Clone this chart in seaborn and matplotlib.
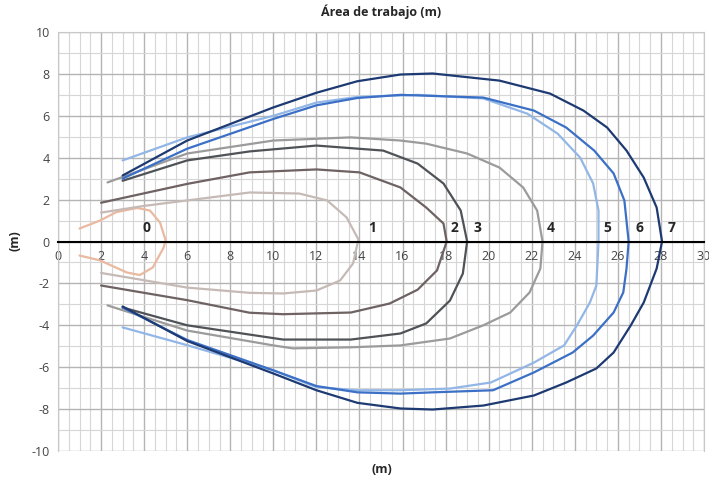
import numpy as np
import pandas as pd
import seaborn as sns
import matplotlib.pyplot as plt
from matplotlib.ticker import MultipleLocator

# Curves of the working area (path: upper half left->right, then lower half right->left)
c0_x = [1.0, 1.95, 2.7, 3.67, 4.27, 4.74, 5.0, 4.9, 4.4, 3.8, 3.2, 1.95, 1.0]
c0_y = [0.62, 1.0, 1.4, 1.6, 1.48, 0.9, 0.05, -0.3, -1.24, -1.6, -1.48, -0.9, -0.67]

c1_x = [2.0, 4.0, 6.0, 8.9, 11.2, 12.5, 13.4, 13.95, 13.7, 13.1, 12.0, 10.45, 8.9, 6.0, 4.0, 2.0]
c1_y = [1.38, 1.7, 1.96, 2.34, 2.29, 1.96, 1.15, 0.1, -1.05, -1.86, -2.34, -2.48, -2.45, -2.2, -1.85, -1.5]

c2_x = [2.0, 6.0, 8.9, 12.0, 14.0, 15.9, 17.1, 17.9, 18.05, 17.6, 16.7, 15.4, 13.6, 10.45, 8.9, 6.0, 2.0]
c2_y = [1.85, 2.75, 3.3, 3.44, 3.3, 2.58, 1.62, 0.86, 0.0, -1.38, -2.3, -2.96, -3.39, -3.47, -3.4, -2.8, -2.1]

c3_x = [3.0, 6.0, 8.9, 12.0, 15.1, 16.7, 17.9, 18.7, 19.0, 18.8, 18.2, 17.1, 15.9, 13.6, 10.45, 6.0, 3.0]
c3_y = [2.9, 3.87, 4.3, 4.58, 4.34, 3.72, 2.77, 1.48, 0.0, -1.53, -2.82, -3.91, -4.39, -4.68, -4.68, -4.0, -3.15]

c4_x = [2.3, 6.0, 10.0, 13.6, 15.9, 17.1, 19.0, 20.5, 21.6, 22.25, 22.5, 22.4, 21.9, 21.0, 19.75, 18.2, 15.9, 13.6, 10.9, 10.0, 6.0, 2.3]
c4_y = [2.82, 4.2, 4.82, 4.97, 4.82, 4.67, 4.2, 3.53, 2.58, 1.48, 0.0, -1.29, -2.43, -3.39, -4.0, -4.63, -4.96, -5.05, -5.1, -4.96, -4.25, -3.05]

c5_x = [3.0, 6.0, 10.0, 12.0, 13.9, 16.7, 19.75, 21.8, 23.2, 24.25, 24.85, 25.1, 25.1, 25.0, 24.7, 24.1, 23.5, 22.1, 20.1,
        18.2, 15.9, 13.9, 12.0, 10.0, 6.0, 3.0]
c5_y = [3.87, 4.97, 6.0, 6.63, 6.9, 7.0, 6.83, 6.1, 5.15, 4.0, 2.77, 1.48, 0.0, -2.1, -2.91, -4.0, -4.96, -5.78, -6.73,
        -7.02, -7.1, -7.1, -6.95, -6.15, -4.95, -4.1]

c6_x = [3.0, 6.0, 10.0, 12.0, 13.9, 15.9, 19.75, 22.1, 23.6, 24.9, 25.8, 26.3, 26.5, 26.4, 26.25, 25.8, 24.85, 23.9, 22.1,
        20.2, 17.4, 15.9, 13.9, 12.0, 10.0, 6.0, 3.0]
c6_y = [3.0, 4.43, 5.85, 6.5, 6.85, 7.0, 6.87, 6.25, 5.44, 4.34, 3.25, 1.96, 0.0, -1.29, -2.43, -3.39, -4.49, -5.3, -6.25,
        -7.1, -7.2, -7.26, -7.2, -6.9, -6.15, -4.7, -3.15]

c7_x = [3.0, 6.0, 10.0, 12.0, 13.9, 15.9, 17.4, 20.5, 22.85, 24.4, 25.5, 26.4, 27.2, 27.8, 28.05, 27.8, 27.2, 26.6, 25.8,
        25.0, 23.6, 22.1, 19.75, 17.4, 15.9, 13.9, 12.0, 10.0, 6.0, 3.0]
c7_y = [3.15, 4.82, 6.4, 7.1, 7.65, 7.97, 8.02, 7.68, 7.06, 6.25, 5.44, 4.34, 3.05, 1.62, 0.0, -1.29, -2.91, -4.0, -5.3,
        -6.06, -6.73, -7.35, -7.83, -8.02, -7.97, -7.7, -7.1, -6.3, -4.75, -3.1]

names = ['0', '1', '2', '3', '4', '5', '6', '7']
label_x = [4.1, 14.6, 18.4, 19.5, 22.9, 25.5, 27.0, 28.5]
colors = ['#e9b9a0', '#c5bab5', '#6e6262', '#4f5357', '#9b9b9b', '#92b6e6', '#3b70c6', '#1d3a73']

curves_x = [c0_x, c1_x, c2_x, c3_x, c4_x, c5_x, c6_x, c7_x]
curves_y = [c0_y, c1_y, c2_y, c3_y, c4_y, c5_y, c6_y, c7_y]

rows = []
for n, xs, ys in zip(names, curves_x, curves_y):
    for i, (a, b) in enumerate(zip(xs, ys)):
        rows.append({'curva': n, 'orden': i, 'x': a, 'y': b})
df = pd.DataFrame(rows)

sns.set_style('white')
plt.rcParams['font.family'] = ['Open Sans', 'DejaVu Sans']
plt.rcParams['axes.unicode_minus'] = False

fig = plt.figure(figsize=(7.09, 4.82), dpi=100)
ax = fig.add_axes([0.0818, 0.0643, 0.9112, 0.8693])

sns.lineplot(data=df, x='x', y='y', hue='curva', palette=colors, sort=False,
             estimator=None, linewidth=1.6, legend=False, ax=ax, zorder=3)

ax.set_xlim(0, 30)
ax.set_ylim(-10, 10)
ax.xaxis.set_major_locator(MultipleLocator(2))
ax.xaxis.set_minor_locator(MultipleLocator(0.5))
ax.yaxis.set_major_locator(MultipleLocator(2))
ax.yaxis.set_minor_locator(MultipleLocator(1))
ax.grid(which='major', color='#b4b4b4', linewidth=1.0)
ax.grid(which='minor', color='#d6d6d6', linewidth=0.8)
ax.set_axisbelow(True)

for s in ['top', 'right', 'left']:
    ax.spines[s].set_color('#c8c8c8')
    ax.spines[s].set_linewidth(0.8)
ax.spines['bottom'].set_position(('data', 0))
ax.spines['bottom'].set_color('black')
ax.spines['bottom'].set_linewidth(1.5)
ax.spines['bottom'].set_zorder(4)

ax.tick_params(axis='x', which='major', direction='inout', length=6, width=1.2,
               colors='black', labelcolor='#444444', labelsize=9, pad=3)
ax.tick_params(axis='x', which='minor', length=0)
ax.tick_params(axis='y', which='both', length=0, labelcolor='#444444', labelsize=9, pad=6)
ax.set_xticks(np.arange(0, 31, 2))
ax.set_xticklabels([str(v) for v in range(0, 31, 2)])

for n, lx in zip(names, label_x):
    ax.text(lx, 0.3, n, fontsize=10, fontweight='bold', ha='center', va='bottom', zorder=5)

ax.set_xlabel('')
ax.set_ylabel('')
fig.text(0.538, 0.975, 'Área de trabajo (m)', ha='center', va='center', fontsize=9, fontweight='bold')
fig.text(0.538, 0.025, '(m)', ha='center', va='center', fontsize=9, fontweight='bold')
fig.text(0.021, 0.5, '(m)', ha='center', va='center', fontsize=9, fontweight='bold', rotation=90)

fig.savefig('out.png', dpi=100)
